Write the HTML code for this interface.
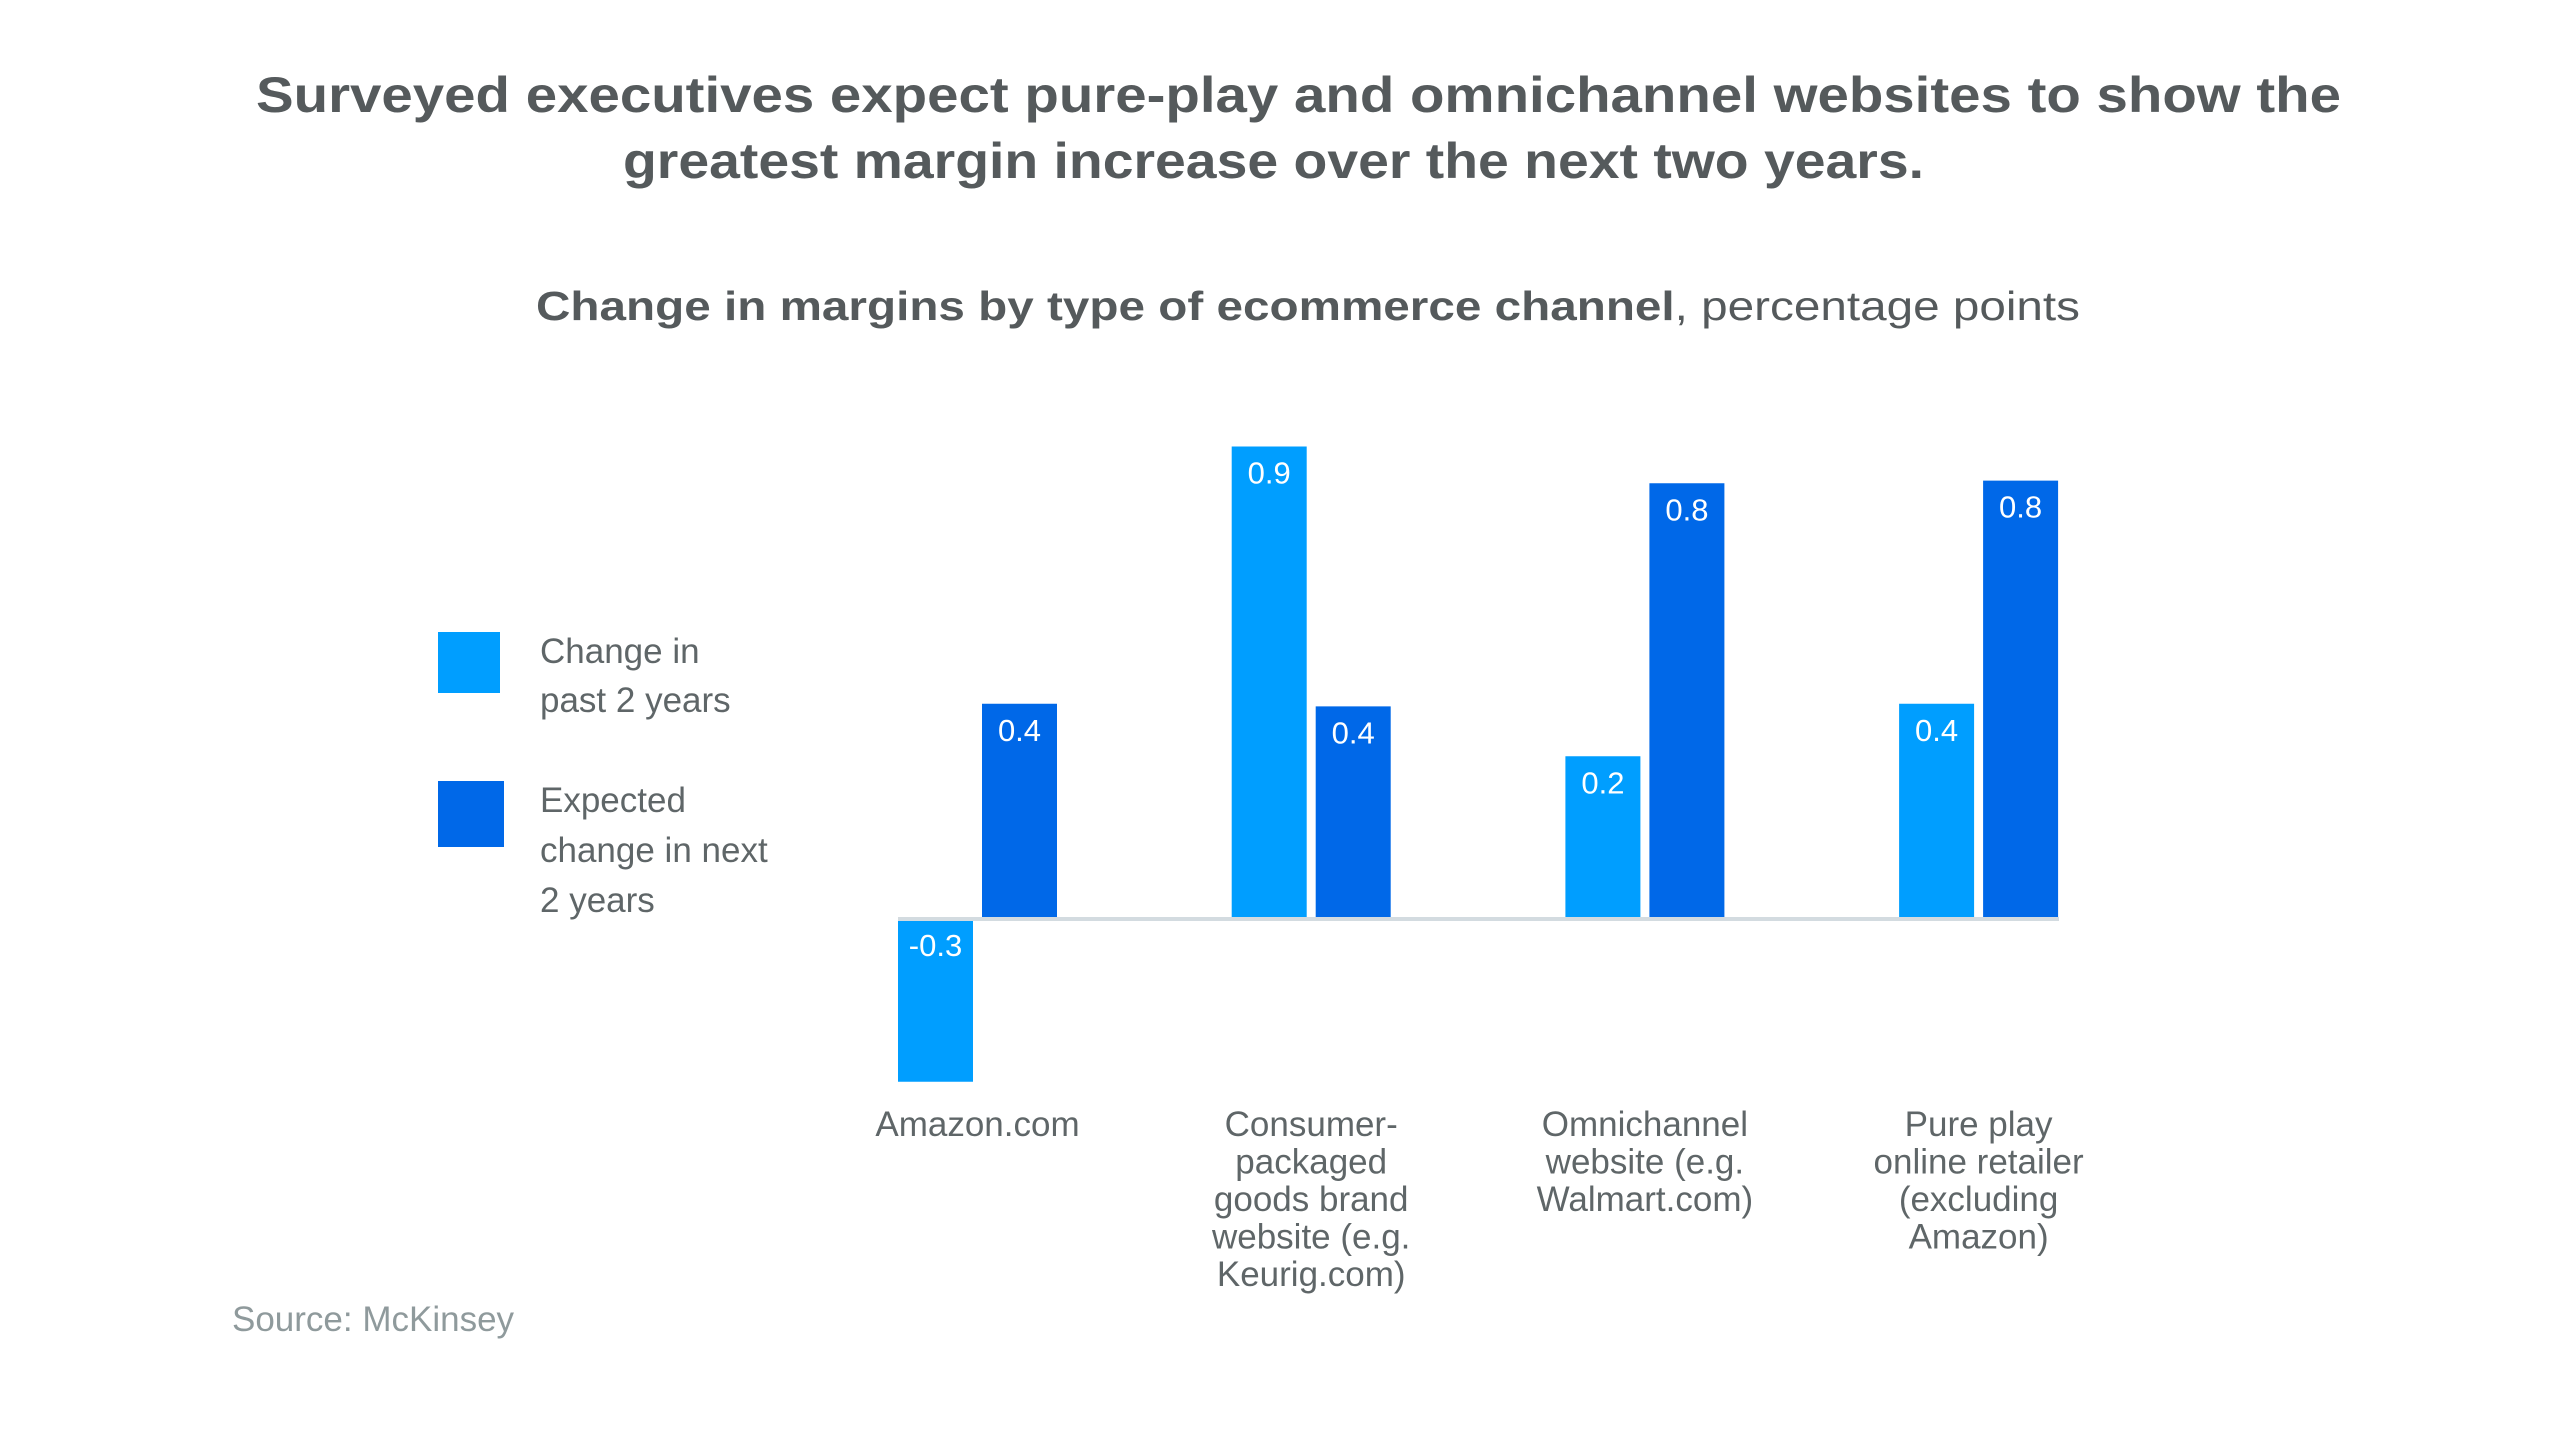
<!DOCTYPE html>
<html><head><meta charset="utf-8"><style>
html,body{margin:0;padding:0;background:#fff;}
svg{display:block;font-family:"Liberation Sans",sans-serif;}
</style></head><body>
<svg id="chart" width="2560" height="1440" viewBox="0 0 2560 1440">
<text x="256" y="112" textLength="2085" lengthAdjust="spacingAndGlyphs" font-size="50" font-weight="bold" fill="#555a5c">Surveyed executives expect pure-play and omnichannel websites to show the</text>
<text x="623" y="178" textLength="1301" lengthAdjust="spacingAndGlyphs" font-size="50" font-weight="bold" fill="#555a5c">greatest margin increase over the next two years.</text>
<text x="536" y="320" textLength="1544" lengthAdjust="spacingAndGlyphs" font-size="41" fill="#555a5c"><tspan font-weight="bold">Change in margins by type of ecommerce channel</tspan>, percentage points</text>
<g>
<rect x="438" y="632" width="62" height="61" fill="#009eff"/>
<text font-size="35" fill="#5f6668"><tspan x="540" y="663">Change in</tspan><tspan x="540" y="712">past 2 years</tspan></text>
<rect x="438" y="781" width="66" height="66" fill="#0068e8"/>
<text font-size="35" fill="#5f6668"><tspan x="540" y="812">Expected</tspan><tspan x="540" y="862">change in next</tspan><tspan x="540" y="912">2 years</tspan></text>
</g>
<g id="bars"></g>
<line x1="898" y1="919" x2="2059" y2="919" stroke="#d3dbe0" stroke-width="4"/>
<g id="xlabels"></g>
<text x="232" y="1331" font-size="35" fill="#8f9a9c">Source: McKinsey</text>
</svg>
<script>
const categories = [
  ["Amazon.com"],
  ["Consumer-","packaged","goods brand","website (e.g.","Keurig.com)"],
  ["Omnichannel","website (e.g.","Walmart.com)"],
  ["Pure play","online retailer","(excluding","Amazon)"]
];
const pastValues = [-0.31, 0.90, 0.31, 0.41];
const expectedValues = [0.41, 0.405, 0.83, 0.835];
const pastLabels = ["-0.3", "0.9", "0.2", "0.4"];
const expectedLabels = ["0.4", "0.4", "0.8", "0.8"];

const NS = "http://www.w3.org/2000/svg";
const zeroY = 919, unit = 525;
const barW = 75, gap = 9, groupStart = 898, groupStep = 333.7;
function y(v){ return zeroY - v*unit; }
function gx(i){ return groupStart + i*groupStep; }

const bars = document.getElementById('bars');
const xl = document.getElementById('xlabels');
function addBar(x, v, color, label, name){
  const r = document.createElementNS(NS,'rect');
  
  
  const top = Math.min(y(v), zeroY), h = Math.abs(y(v)-zeroY);
  r.setAttribute('x', x); r.setAttribute('y', top);
  r.setAttribute('width', barW); r.setAttribute('height', h);
  r.setAttribute('fill', color);
  bars.appendChild(r);
  const t = document.createElementNS(NS,'text');
  
  
  t.setAttribute('x', x + barW/2);
  t.setAttribute('y', (v >= 0 ? top : zeroY) + 37);
  t.setAttribute('text-anchor', 'middle');
  t.setAttribute('font-size', '31');
  t.setAttribute('fill', '#fff');
  t.textContent = label;
  bars.appendChild(t);
}
categories.forEach((lines, i) => {
  const x0 = gx(i);
  addBar(x0, pastValues[i], '#009eff', pastLabels[i], 'bar-past-' + i);
  addBar(x0 + barW + gap, expectedValues[i], '#0068e8', expectedLabels[i], 'bar-expected-' + i);
  const t = document.createElementNS(NS,'text');
  
  
  t.setAttribute('text-anchor', 'middle');
  t.setAttribute('font-size', '35');
  t.setAttribute('fill', '#5f6668');
  lines.forEach((ln, j) => {
    const s = document.createElementNS(NS,'tspan');
    s.setAttribute('x', x0 + barW + gap/2);
    s.setAttribute('y', 1136 + j*37.5);
    s.textContent = ln;
    t.appendChild(s);
  });
  xl.appendChild(t);
});
</script>
</body></html>
